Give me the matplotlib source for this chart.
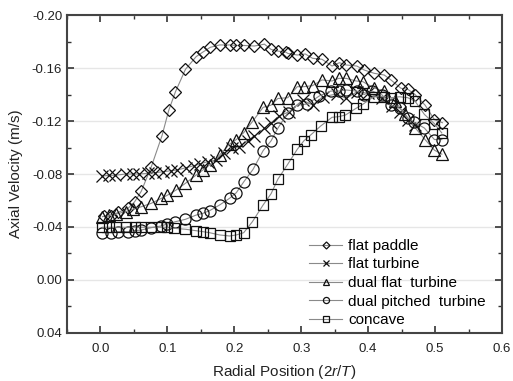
import matplotlib
matplotlib.use('Agg')
import matplotlib.pyplot as plt
from matplotlib.ticker import MultipleLocator, FuncFormatter, FormatStrFormatter

plt.rcParams['font.family'] = ['Liberation Sans', 'DejaVu Sans']
plt.rcParams['mathtext.fontset'] = 'custom'
plt.rcParams['mathtext.it'] = 'Liberation Sans:italic'
plt.rcParams['mathtext.rm'] = 'Liberation Sans'

# radial positions / axial velocities
paddle_x = [0.006, 0.016, 0.026, 0.041, 0.051, 0.061, 0.076, 0.092, 0.102, 0.112,
            0.127, 0.143, 0.153, 0.164, 0.178, 0.193, 0.203, 0.215, 0.230, 0.245,
            0.255, 0.265, 0.277, 0.280, 0.294, 0.306, 0.317, 0.331, 0.346, 0.357,
            0.367, 0.383, 0.394, 0.409, 0.424, 0.434, 0.449, 0.459, 0.470, 0.485,
            0.499, 0.511]
paddle_v = [-0.048, -0.048, -0.051, -0.054, -0.059, -0.067, -0.0855, -0.109, -0.128, -0.142,
            -0.159, -0.1686, -0.172, -0.1756, -0.1774, -0.1774, -0.177, -0.177, -0.1766, -0.178,
            -0.174, -0.1728, -0.172, -0.171, -0.1698, -0.1706, -0.1673, -0.1666, -0.1615, -0.164,
            -0.1623, -0.1615, -0.1585, -0.156, -0.1547, -0.151, -0.1447, -0.144, -0.140, -0.132,
            -0.121, -0.1187]

turbine_x = [0.003, 0.013, 0.021, 0.038, 0.048, 0.058, 0.071, 0.081, 0.094, 0.105,
             0.115, 0.128, 0.140, 0.148, 0.160, 0.173, 0.185, 0.197, 0.207, 0.220,
             0.230, 0.245, 0.255, 0.267, 0.282, 0.302, 0.317, 0.332, 0.353, 0.367,
             0.383, 0.400, 0.420, 0.435, 0.447, 0.459, 0.470]
turbine_v = [-0.0785, -0.079, -0.079, -0.080, -0.080, -0.080, -0.0805, -0.081, -0.0817, -0.0825,
             -0.083, -0.0848, -0.0863, -0.0875, -0.0893, -0.0906, -0.096, -0.0994, -0.1006, -0.105,
             -0.1085, -0.1145, -0.1187, -0.1238, -0.127, -0.1358, -0.132, -0.1383, -0.1404, -0.137,
             -0.142, -0.141, -0.137, -0.131, -0.127, -0.121, -0.117]

dual_flat_x = [0.003, 0.013, 0.023, 0.038, 0.048, 0.061, 0.076, 0.091, 0.100, 0.113,
               0.127, 0.143, 0.153, 0.163, 0.178, 0.193, 0.203, 0.214, 0.227, 0.243,
               0.255, 0.265, 0.280, 0.294, 0.304, 0.317, 0.331, 0.346, 0.356, 0.367,
               0.382, 0.392, 0.408, 0.423, 0.440, 0.455, 0.470, 0.485, 0.499, 0.510]
dual_flat_v = [-0.0478, -0.049, -0.0498, -0.0516, -0.0534, -0.0553, -0.0579, -0.0616, -0.064, -0.0679,
               -0.073, -0.0792, -0.083, -0.0868, -0.0943, -0.1026, -0.106, -0.1112, -0.1195, -0.1303,
               -0.132, -0.137, -0.1376, -0.1459, -0.1459, -0.1467, -0.151, -0.1502, -0.1522, -0.1522,
               -0.1502, -0.1497, -0.1451, -0.1426, -0.135, -0.125, -0.115, -0.106, -0.098, -0.095]

pitched_x = [0.003, 0.016, 0.026, 0.041, 0.051, 0.061, 0.076, 0.091, 0.100, 0.112,
             0.127, 0.143, 0.153, 0.163, 0.178, 0.193, 0.203, 0.214, 0.228, 0.243,
             0.255, 0.265, 0.280, 0.294, 0.309, 0.327, 0.344, 0.356, 0.367, 0.383,
             0.394, 0.406, 0.421, 0.434, 0.447, 0.459, 0.469, 0.484, 0.499, 0.510]
pitched_v = [-0.0357, -0.0357, -0.0365, -0.0365, -0.0372, -0.0377, -0.0395, -0.0408, -0.0423, -0.044,
             -0.0458, -0.049, -0.0503, -0.0523, -0.0566, -0.0617, -0.0659, -0.074, -0.0835, -0.0976,
             -0.1051, -0.1145, -0.1263, -0.132, -0.1328, -0.1389, -0.1426, -0.1426, -0.1434, -0.1426,
             -0.140, -0.1426, -0.1396, -0.132, -0.1296, -0.1225, -0.119, -0.1147, -0.106, -0.106]

concave_x = [0.003, 0.013, 0.023, 0.038, 0.051, 0.061, 0.076, 0.091, 0.100, 0.110,
             0.127, 0.143, 0.153, 0.163, 0.178, 0.193, 0.203, 0.214, 0.227, 0.243,
             0.255, 0.265, 0.280, 0.294, 0.304, 0.314, 0.329, 0.346, 0.356, 0.366,
             0.382, 0.392, 0.408, 0.423, 0.434, 0.447, 0.459, 0.470, 0.484, 0.499, 0.510]
concave_v = [-0.0398, -0.0398, -0.0398, -0.0398, -0.0398, -0.0398, -0.0398, -0.0398, -0.0398, -0.039,
             -0.0383, -0.0372, -0.0365, -0.0357, -0.034, -0.0332, -0.034, -0.0357, -0.044, -0.0566,
             -0.0652, -0.076, -0.0875, -0.0986, -0.1051, -0.1094, -0.1162, -0.1228, -0.1233, -0.1245,
             -0.1296, -0.1326, -0.1383, -0.1383, -0.1376, -0.1383, -0.1376, -0.135, -0.125, -0.118, -0.111]

series = [
    (paddle_x, paddle_v, 'D', 'flat paddle', 6.5),
    (turbine_x, turbine_v, 'x', 'flat turbine', 8),
    (dual_flat_x, dual_flat_v, '^', 'dual flat  turbine', 8.5),
    (pitched_x, pitched_v, 'o', 'dual pitched  turbine', 8),
    (concave_x, concave_v, 's', 'concave', 7.5),
]

fig = plt.figure(figsize=(5.13, 3.81), dpi=100)
ax = fig.add_axes([0.1306, 0.126, 0.848, 0.8346])

for x, v, m, lab, ms in series:
    ax.plot(x, v, color='#8a8a8a', lw=0.8, marker=m, ms=ms, mfc='none',
            mec='#111111', mew=0.9, label=lab)

ax.set_xlim(-0.05, 0.6)
ax.set_ylim(0.04, -0.20)
ax.xaxis.set_major_locator(MultipleLocator(0.1))
ax.xaxis.set_minor_locator(MultipleLocator(0.05))
ax.yaxis.set_major_locator(MultipleLocator(0.04))
ax.yaxis.set_minor_locator(MultipleLocator(0.02))
ax.xaxis.set_major_formatter(FormatStrFormatter('%.1f'))
ax.yaxis.set_major_formatter(FuncFormatter(lambda v, p: '%.2f' % (0.0 if abs(v) < 1e-9 else v)))
ax.grid(axis='y', which='major', color='#e6e6e6', lw=1)
ax.set_axisbelow(True)

ax.tick_params(which='both', direction='in', top=True, right=True,
               colors='#333333', labelcolor='#222222', labelsize=9.5)
ax.tick_params(which='major', length=5, width=1.2)
ax.tick_params(which='minor', length=3, width=1)
ax.tick_params(axis='x', pad=7)
for s in ax.spines.values():
    s.set_color('#444444')
    s.set_linewidth(1.5)

ax.set_xlabel(r'Radial Position ($2r/T$)', fontsize=11, color='#222222', labelpad=6)
ax.set_ylabel('Axial Velocity (m/s)', fontsize=11, color='#222222', labelpad=6)

ax.legend(loc='lower right', bbox_to_anchor=(0.995, -0.025), frameon=False,
          fontsize=11, markerscale=0.55, handlelength=2.2, handletextpad=0.4,
          labelspacing=0.3)

fig.savefig('out.png', dpi=100)
